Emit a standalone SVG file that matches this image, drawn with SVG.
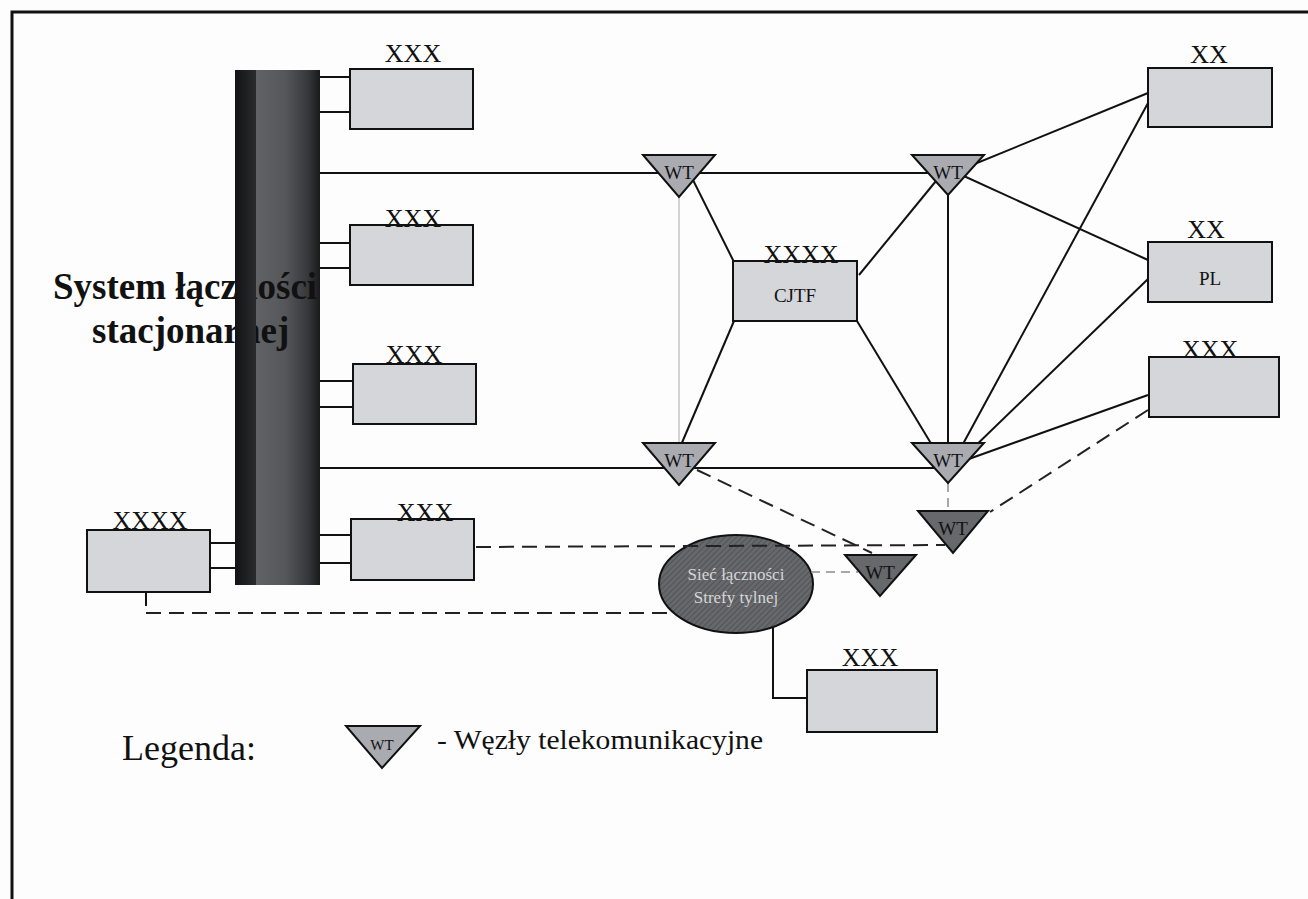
<svg xmlns="http://www.w3.org/2000/svg" width="1308" height="899" viewBox="0 0 1308 899">
  <style>
    .frame { stroke: #111; stroke-width: 3; fill: none; }
    .box { fill: #d4d6da; stroke: #111; stroke-width: 2; }
    .lbl { font-family: "Liberation Serif", "Times New Roman", serif; font-size: 26px; fill: #111; text-anchor: middle; }
    .wtl { font-family: "Liberation Serif", "Times New Roman", serif; font-size: 19px; fill: #111; text-anchor: middle; }
    .wt { fill: #a9abb0; stroke: #111; stroke-width: 2; stroke-linejoin: miter; }
    .wtd { fill: #66686c; stroke: #111; stroke-width: 2; }
    .ln { stroke: #111; stroke-width: 2; fill: none; }
    .dash { stroke: #222; stroke-width: 2; fill: none; stroke-dasharray: 15 8; }
    .gdash { stroke: #8a8a8a; stroke-width: 1.5; fill: none; stroke-dasharray: 9 6; }
    .thin { stroke: #c4c4c4; stroke-width: 1.5; fill: none; }
    .big { font-family: "Liberation Serif", "Times New Roman", serif; font-weight: bold; font-size: 37px; fill: #111; }
  </style>
  <defs>
    <linearGradient id="busBody" x1="0" y1="0" x2="1" y2="0">
      <stop offset="0" stop-color="#606266"/>
      <stop offset="0.45" stop-color="#55575b"/>
      <stop offset="0.8" stop-color="#38393c"/>
      <stop offset="1" stop-color="#1a1a1c"/>
    </linearGradient>
    <linearGradient id="busEdge" x1="0" y1="0" x2="1" y2="0">
      <stop offset="0" stop-color="#131315"/>
      <stop offset="1" stop-color="#2a2b2e"/>
    </linearGradient>
    <pattern id="hatch" width="4" height="4" patternUnits="userSpaceOnUse" patternTransform="rotate(45)">
      <rect width="4" height="4" fill="#66686c"/>
      <line x1="0" y1="0" x2="0" y2="4" stroke="#4a4c50" stroke-width="1.5"/>
    </pattern>
  </defs>

  <rect width="1308" height="899" fill="#fdfdfd"/>

  <!-- outer frame (top and left edges only) -->
  <path class="frame" d="M12,899 V12 H1308"/>

  <!-- rear-area network ellipse sits under the crossing dashed link -->
  <g id="rear-network">
    <ellipse cx="736" cy="584" rx="77" ry="49" fill="url(#hatch)" stroke="#111" stroke-width="2"/>
    <text x="736" y="580" font-family="'Liberation Serif', 'Times New Roman', serif" font-size="17" fill="#d6d6d6" text-anchor="middle">Sieć łączności</text>
    <text x="736" y="603" font-family="'Liberation Serif', 'Times New Roman', serif" font-size="17" fill="#d6d6d6" text-anchor="middle">Strefy tylnej</text>
  </g>

  <g id="connectors">
    <!-- bus to boxes -->
    <path class="ln" d="M320,77 H350 M320,112 H350"/>
    <path class="ln" d="M320,243 H350 M320,268 H350"/>
    <path class="ln" d="M320,381 H353 M320,407 H353"/>
    <path class="ln" d="M320,535 H351 M320,563 H351"/>
    <path class="ln" d="M210,543 H235 M210,568 H235"/>
    <!-- trunk lines -->
    <path class="ln" d="M320,173 H948"/>
    <path class="ln" d="M320,468 H948"/>
    <!-- CJTF links -->
    <path class="ln" d="M687,168 L734,262"/>
    <path class="ln" d="M859,275 L945,170"/>
    <path class="ln" d="M734,321 L678,452"/>
    <path class="ln" d="M857,321 L938,455"/>
    <line class="thin" x1="679" y1="197" x2="679" y2="443"/>
    <!-- right-side mesh -->
    <path class="ln" d="M948,190 V455"/>
    <path class="ln" d="M955,172 L1148,93"/>
    <path class="ln" d="M955,172 L1148,260"/>
    <path class="ln" d="M1148,103 L957,455"/>
    <path class="ln" d="M1148,279 L966,455"/>
    <path class="ln" d="M1148,395 L966,460"/>
    <!-- dashed links -->
    <path class="dash" d="M697,470 L872,553"/>
    <path class="dash" d="M476,547 L945,545"/>
    <path class="dash" d="M1148,410 L990,512"/>
    <path class="gdash" d="M948,483 V511"/>
    <path class="gdash" d="M811,572 H858"/>
    <path class="ln" d="M146,592 V606"/>
    <path class="dash" d="M146,613 H670"/>
    <path class="ln" d="M773,627 V698 H807"/>
  </g>

  <!-- fixed communication system bus -->
  <g id="bus">
    <rect x="256" y="70" width="64" height="515" fill="url(#busBody)"/>
    <text class="big" x="53" y="299">System łączności</text>
    <text class="big" x="92" y="343">stacjonarnej</text>
    <rect x="235" y="70" width="21" height="515" fill="url(#busEdge)"/>
  </g>

  <g id="box-xxx-1">
    <rect class="box" x="350" y="69" width="123" height="60"/>
    <text class="lbl" x="413" y="62">XXX</text>
  </g>
  <g id="box-xxx-2">
    <rect class="box" x="350" y="225" width="123" height="60"/>
    <text class="lbl" x="413" y="227">XXX</text>
  </g>
  <g id="box-xxx-3">
    <rect class="box" x="353" y="364" width="123" height="60"/>
    <text class="lbl" x="414" y="363">XXX</text>
  </g>
  <g id="box-xxx-4">
    <rect class="box" x="351" y="519" width="123" height="61"/>
    <text class="lbl" x="425" y="521">XXX</text>
  </g>
  <g id="box-xxxx-left">
    <rect class="box" x="87" y="530" width="123" height="62"/>
    <text class="lbl" x="150" y="529">XXXX</text>
  </g>
  <g id="box-cjtf">
    <rect class="box" x="733" y="261" width="124" height="60"/>
    <text class="lbl" x="801" y="263">XXXX</text>
    <text class="wtl" x="795" y="302">CJTF</text>
  </g>
  <g id="box-xx-1">
    <rect class="box" x="1148" y="68" width="124" height="59"/>
    <text class="lbl" x="1209" y="63">XX</text>
  </g>
  <g id="box-pl">
    <rect class="box" x="1148" y="242" width="124" height="60"/>
    <text class="lbl" x="1206" y="238">XX</text>
    <text class="wtl" x="1210" y="285">PL</text>
  </g>
  <g id="box-xxx-right">
    <rect class="box" x="1149" y="357" width="130" height="60"/>
    <text class="lbl" x="1210" y="358">XXX</text>
  </g>
  <g id="box-xxx-bottom">
    <rect class="box" x="807" y="670" width="130" height="62"/>
    <text class="lbl" x="870" y="666">XXX</text>
  </g>

  <!-- telecom nodes -->
  <g id="wt-top-left">
    <polygon class="wt" points="643,155 715,155 679,197"/>
    <text class="wtl" x="679" y="179">WT</text>
  </g>
  <g id="wt-top-right">
    <polygon class="wt" points="912,155 984,155 948,195"/>
    <text class="wtl" x="948" y="179">WT</text>
  </g>
  <g id="wt-bottom-left">
    <polygon class="wt" points="643,443 715,443 679,485"/>
    <text class="wtl" x="679" y="467">WT</text>
  </g>
  <g id="wt-bottom-right">
    <polygon class="wt" points="912,443 984,443 948,483"/>
    <text class="wtl" x="948" y="467">WT</text>
  </g>
  <g id="wt-rear-right">
    <polygon class="wtd" points="918,511 988,511 953,553"/>
    <text class="wtl" x="953" y="535" fill="#222">WT</text>
  </g>
  <g id="wt-rear-middle">
    <polygon class="wtd" points="845,555 916,555 880,596"/>
    <text class="wtl" x="880" y="579" fill="#222">WT</text>
  </g>

  <!-- legend -->
  <g id="legend">
    <text x="122" y="760" font-family="'Liberation Serif', 'Times New Roman', serif" font-size="36" fill="#111">Legenda:</text>
    <polygon class="wt" points="346,726 420,726 382,768"/>
    <text x="382" y="750" font-family="'Liberation Serif', 'Times New Roman', serif" font-size="15" fill="#111" text-anchor="middle">WT</text>
    <text x="437" y="749" font-family="'Liberation Serif', 'Times New Roman', serif" font-size="28" fill="#111" textLength="326" lengthAdjust="spacingAndGlyphs">- Węzły telekomunikacyjne</text>
  </g>
</svg>
